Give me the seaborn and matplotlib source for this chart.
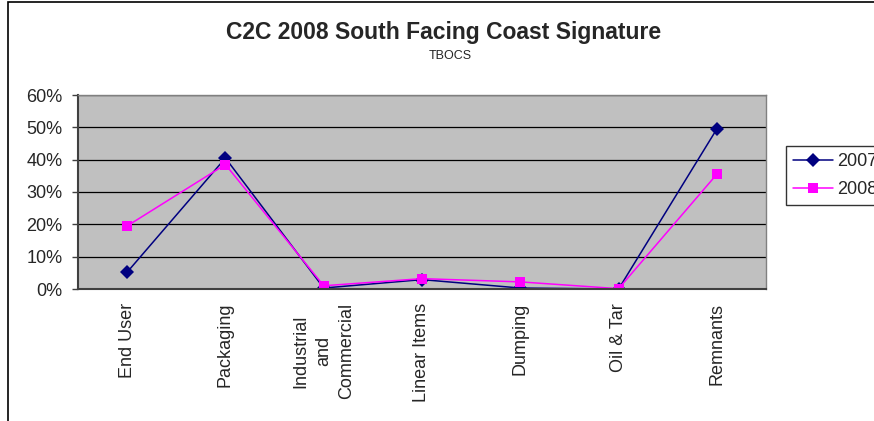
import numpy as np
import pandas as pd
import seaborn as sns
import matplotlib.pyplot as plt
from matplotlib.patches import Rectangle

categories = ['End User', 'Packaging', 'Industrial\nand\nCommercial', 'Linear Items',
              'Dumping', 'Oil & Tar', 'Remnants']
vals_2007 = [0.052, 0.405, 0.003, 0.029, 0.003, 0.0, 0.495]
vals_2008 = [0.195, 0.385, 0.010, 0.032, 0.022, 0.001, 0.355]
years = ['2007', '2008']

df = pd.DataFrame({
    'pos': list(range(len(categories))) * 2,
    'value': vals_2007 + vals_2008,
    'year': [years[0]] * len(categories) + [years[1]] * len(categories),
})

sns.set_style('white')
plt.rcParams['font.family'] = ['Liberation Sans', 'DejaVu Sans']

fig = plt.figure(figsize=(8.74, 4.21), dpi=100)
ax = fig.add_axes([78 / 874, 1 - 289 / 421, 688 / 874, 194 / 421])
ax.set_facecolor('#C0C0C0')

sns.lineplot(data=df, x='pos', y='value', hue='year', style='year',
             palette={'2007': '#000080', '2008': '#FF00FF'},
             markers={'2007': 'D', '2008': 's'}, dashes=False,
             markersize=7, linewidth=1.1, markeredgewidth=0, ax=ax)

ax.set_xlim(-0.5, 6.5)
ax.set_ylim(0, 0.6)
ax.set_yticks(np.arange(0, 0.61, 0.1))
ax.set_yticklabels([f'{int(round(v * 100))}%' for v in np.arange(0, 0.61, 0.1)], fontsize=13)
ax.yaxis.grid(True, color='black', linewidth=0.9)
ax.set_axisbelow(True)
ax.set_xticks(range(len(categories)))
ax.set_xticklabels(categories, rotation=90, fontsize=13, va='top', ha='center',
                   multialignment='center', linespacing=1.45)
ax.set_xticks(np.arange(-0.5, 7, 1), minor=True)
ax.tick_params(axis='x', which='major', length=0, pad=10)
ax.tick_params(axis='x', which='minor', length=5, width=1, color='#404040', direction='out')
ax.tick_params(axis='y', length=4.5, width=1, color='#404040', direction='out', pad=6.5, left=True)
ax.set_xlabel('')
ax.set_ylabel('')
for side in ['top', 'right']:
    ax.spines[side].set_color('#808080')
    ax.spines[side].set_linewidth(1)
for side in ['left', 'bottom']:
    ax.spines[side].set_color('#404040')
    ax.spines[side].set_linewidth(1.5)

# legend runs off the right edge, as in the original
leg = ax.legend(loc='upper left', bbox_to_anchor=(1.029, 0.737), frameon=True,
                fontsize=13, fancybox=False, borderpad=0.4, handlelength=2.2,
                handletextpad=0.25, labelspacing=0.6, borderaxespad=0)
leg.get_frame().set_edgecolor('black')
leg.get_frame().set_linewidth(1)

fig.text(444 / 874, 1 - 33 / 421, 'C2C 2008 South Facing Coast Signature',
         ha='center', va='center', fontsize=16.5, fontweight='bold')
fig.text(450 / 874, 1 - 56 / 421, 'TBOCS', ha='center', va='center', fontsize=9)

fig.patches.append(Rectangle((8 / 874, -0.1), 1.2, 1 - 2 / 421 + 0.1, transform=fig.transFigure,
                             fill=False, edgecolor='black', linewidth=1.2))

fig.savefig('out.png', dpi=100)
